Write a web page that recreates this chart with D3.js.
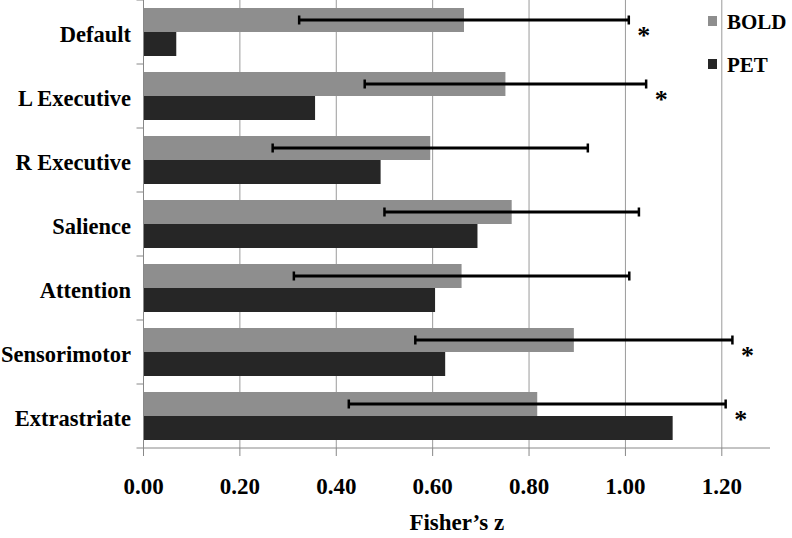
<!DOCTYPE html>
<html>
<head>
<meta charset="utf-8">
<script src="https://cdn.jsdelivr.net/npm/d3@7"></script>
<style>
  html, body { margin: 0; padding: 0; background: #fff; }
  svg { display: block; }
  text { font-family: "Liberation Serif", "Times New Roman", Times, "DejaVu Serif", serif; font-weight: bold; fill: #000; }
</style>
</head>
<body>
<svg id="chart" width="792" height="538"></svg>
<script>
const categories = ["Default", "L Executive", "R Executive", "Salience", "Attention", "Sensorimotor", "Extrastriate"];
const seriesNames = ["BOLD", "PET"];
const boldValues = [0.665, 0.751, 0.595, 0.764, 0.660, 0.893, 0.817];
const petValues  = [0.068, 0.356, 0.492, 0.693, 0.605, 0.626, 1.098];
const boldErrors = [0.342, 0.292, 0.327, 0.264, 0.348, 0.329, 0.391];
const significant = [true, true, false, false, false, true, true];
const xTicks = [0, 0.2, 0.4, 0.6, 0.8, 1.0, 1.2];
const xMax = 1.3;
const xTitle = "Fisher\u2019s z";

const colors = { BOLD: "#8e8e8e", PET: "#262626" };

const svg = d3.select("#chart");
const pLeft = 143.5, pRight = 770, pTop = 0, pBottom = 448;

const x = d3.scaleLinear().domain([0, xMax]).range([pLeft, pRight]);
const y = d3.scaleBand().domain(categories).range([pTop, pBottom]).paddingInner(0).paddingOuter(0);
const sub = d3.scaleBand().domain(seriesNames).range([0, y.bandwidth()]).paddingOuter(1/3).paddingInner(0);

// gridlines
svg.append("g").selectAll("line").data(xTicks.filter(d => d > 0)).join("line")
  .attr("x1", d => x(d)).attr("x2", d => x(d))
  .attr("y1", pTop).attr("y2", pBottom)
  .attr("stroke", "#9a9a9a").attr("stroke-width", 1);

// bars
const rows = categories.map((c, i) => ({ cat: c, BOLD: boldValues[i], PET: petValues[i], err: boldErrors[i], sig: significant[i] }));
const groups = svg.append("g").selectAll("g").data(rows).join("g")
  .attr("transform", d => `translate(0,${y(d.cat)})`);
groups.selectAll("rect").data(d => seriesNames.map(s => ({ s, v: d[s] }))).join("rect")
  .attr("x", x(0))
  .attr("y", d => sub(d.s))
  .attr("width", d => x(d.v) - x(0))
  .attr("height", sub.bandwidth())
  .attr("fill", d => colors[d.s]);

// error bars on BOLD
groups.each(function(d) {
  const g = d3.select(this);
  const cy = sub("BOLD") + sub.bandwidth() / 2;
  const lo = x(d.BOLD - d.err), hi = x(d.BOLD + d.err);
  g.append("line").attr("x1", lo).attr("x2", hi).attr("y1", cy).attr("y2", cy)
    .attr("stroke", "#000").attr("stroke-width", 3);
  [lo, hi].forEach(px => g.append("line").attr("x1", px).attr("x2", px)
    .attr("y1", cy - 4.5).attr("y2", cy + 4.5).attr("stroke", "#000").attr("stroke-width", 2.5));
  if (d.sig) {
    g.append("text").attr("x", hi + 15).attr("y", y.bandwidth() / 2 + 12)
      .attr("text-anchor", "middle").style("font-size", "26px").text("*");
  }
});

// left axis
const yAxis = svg.append("g");
yAxis.append("line").attr("x1", pLeft).attr("x2", pLeft).attr("y1", pTop).attr("y2", pBottom)
  .attr("stroke", "#888").attr("stroke-width", 1);
yAxis.selectAll("line.tick").data(d3.range(categories.length + 1)).join("line")
  .attr("class", "tick")
  .attr("x1", pLeft - 7).attr("x2", pLeft)
  .attr("y1", i => pTop + i * y.step()).attr("y2", i => pTop + i * y.step())
  .attr("stroke", "#888").attr("stroke-width", 1);
yAxis.selectAll("text").data(categories).join("text")
  .attr("x", 131).attr("y", d => y(d) + y.bandwidth() / 2 + 10)
  .attr("text-anchor", "end").style("font-size", "22.5px").text(d => d);

// bottom axis
const xAxis = svg.append("g");
xAxis.append("line").attr("x1", pLeft).attr("x2", pRight).attr("y1", pBottom).attr("y2", pBottom)
  .attr("stroke", "#888").attr("stroke-width", 1);
xAxis.selectAll("line.tick").data(xTicks).join("line")
  .attr("class", "tick")
  .attr("x1", d => x(d)).attr("x2", d => x(d))
  .attr("y1", pBottom).attr("y2", pBottom + 8)
  .attr("stroke", "#888").attr("stroke-width", 1);
xAxis.selectAll("text").data(xTicks).join("text")
  .attr("x", d => x(d)).attr("y", 494)
  .attr("text-anchor", "middle").style("font-size", "23px").text(d => d.toFixed(2));

svg.append("text").attr("x", (pLeft + pRight) / 2).attr("y", 530)
  .attr("text-anchor", "middle").style("font-size", "23px").text(xTitle);

// legend
const legend = svg.append("g");
seriesNames.forEach((s, i) => {
  const cy = 21 + i * 43;
  legend.append("rect").attr("x", 708).attr("y", cy - 5).attr("width", 9).attr("height", 10).attr("fill", colors[s]);
  legend.append("text").attr("x", 727).attr("y", cy + 8).style("font-size", "21px").text(s);
});
</script>
</body>
</html>
